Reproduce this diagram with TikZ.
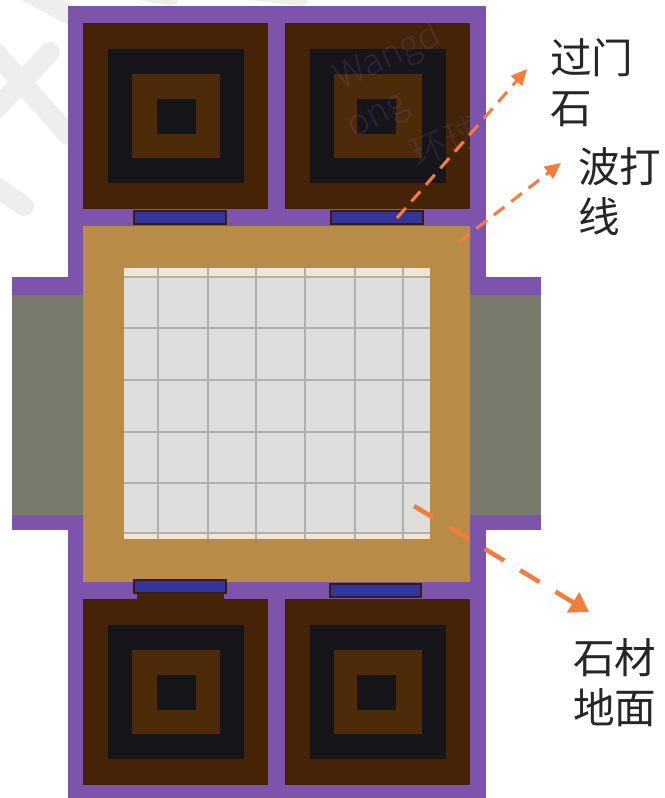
\documentclass[tikz,border=0pt]{standalone}
\usepackage{fontspec}
\setmainfont{Liberation Sans}
\newfontfamily\cjk{Noto Sans CJK SC}
\newfontfamily\cjklight{Noto Sans CJK SC Light}
\usetikzlibrary{arrows.meta}
\definecolor{wallpurple}{HTML}{7C54AC}
\definecolor{roombrown}{HTML}{452306}
\definecolor{ringblack}{HTML}{15151A}
\definecolor{ringbrown}{HTML}{4E2B08}
\definecolor{tanfloor}{HTML}{B88C47}
\definecolor{stone}{HTML}{DEDEDC}
\definecolor{cream}{HTML}{EFE6D6}
\definecolor{joint}{HTML}{B0B0AE}
\definecolor{sidegrey}{HTML}{7A7A6C}
\definecolor{doorblue}{HTML}{33359F}
\definecolor{dooredge}{HTML}{3A1E0A}
\definecolor{callout}{HTML}{F47C3C}
\definecolor{wmgrey}{HTML}{EEEEEE}
\tikzset{
  x=0.75pt,y=-0.75pt,
  mark stroke/.style={draw=wmgrey,line width=15pt,line cap=round},
  wallfill/.style={fill=wallpurple},
  door/.style={fill=doorblue,draw=dooredge,line width=.8pt},
  jointline/.style={draw=joint,line width=1.5pt},
  calloutthin/.style={draw=callout,line width=2.3pt,dash pattern=on 10pt off 6.5pt,-{Triangle[length=12pt,width=11pt]}},
  calloutthick/.style={draw=callout,line width=3.4pt,dash pattern=on 17pt off 14pt,-{Triangle[length=14pt,width=17pt]}},
  label text/.style={font=\cjk\fontsize{31.2pt}{37.5pt}\selectfont,text=black!85,align=left,inner sep=0pt,anchor=north west},
  wm/.style={text=wallpurple,opacity=.22,inner sep=0pt,font=\cjklight\fontsize{27pt}{27pt}\selectfont},
}
\newcommand{\roomrings}[3]{%
  \fill[roombrown] (#1,#2) rectangle ++(185,186);
  \fill[ringblack] (#1+25,#2+26) rectangle ++(136,134);
  \fill[ringbrown] (#1+49,#2+51) rectangle ++(88,84);
  \fill[ringblack] (#1+#3,#2+76) rectangle ++(39,35);
}
\begin{document}
\begin{tikzpicture}
\useasboundingbox (0,0) rectangle (664,798);
\fill[white] (0,0) rectangle (664,798);
% pale background watermark
\draw[mark stroke] (50,52) -- (-5,110);
\draw[mark stroke] (-5,52) -- (68,135);
\draw[mark stroke] (28,-8) -- (68,14);
\draw[mark stroke] (-5,186) -- (24,206);
\draw[mark stroke] (140,-10) -- (170,-4);
\draw[mark stroke] (250,-10) -- (300,-4);
% walls
\fill[wallfill] (68,6) rectangle (486,798);
\fill[wallfill] (12,277) rectangle (541,530);
% side passages
\fill[sidegrey] (12,295) rectangle (83,515);
\fill[sidegrey] (470,295) rectangle (541,515);
% central hall
\fill[tanfloor] (83,226) rectangle (470,582);
% corner rooms
\roomrings{83}{23}{74}
\roomrings{285}{23}{72}
\fill[roombrown] (137,590) rectangle (224,600);
\roomrings{83}{599}{74}
\roomrings{285}{599}{72}
% thresholds
\draw[door] (134,211) rectangle (226,224);
\draw[door] (331,211) rectangle (423,224);
\draw[door] (134,580) rectangle (226,593);
\draw[door] (330,584) rectangle (421,597);
% stone floor
\fill[cream] (124,268) rectangle (430,539);
\fill[stone] (124,277) rectangle (430,533);
\foreach \gx in {158,208,256,305,355,403}
  \draw[jointline] (\gx,268) -- (\gx,539);
\foreach \gy in {277,328,380,432,483,533}
  \draw[jointline] (124,\gy) -- (430,\gy);
% text watermark
\node[wm,rotate=25] (wmA) at (388,58) {Wangd};
\node[wm,rotate=28] (wmB) at (380,119) {ong};
\node[wm,rotate=22] (wmC) at (446,141) {环球};
% labels
\node[label text] (gate) at (550,38) {过门\\石};
\node[label text] (wave) at (578,147) {波打\\线};
\node[label text] (stonefloor) at (573,638) {石材\\地面};
% callouts
\coordinate (gateFrom) at (397,218);
\coordinate (gateTo) at (527,69);
\coordinate (waveFrom) at (459,242);
\coordinate (waveTo) at (561,163);
\coordinate (floorFrom) at (414,506);
\coordinate (floorTo) at (589,612);
\draw[calloutthin] (gateFrom) -- (gateTo);
\draw[calloutthin] (waveFrom) -- (waveTo);
\draw[calloutthick] (floorFrom) -- (floorTo);
\end{tikzpicture}
\end{document}
